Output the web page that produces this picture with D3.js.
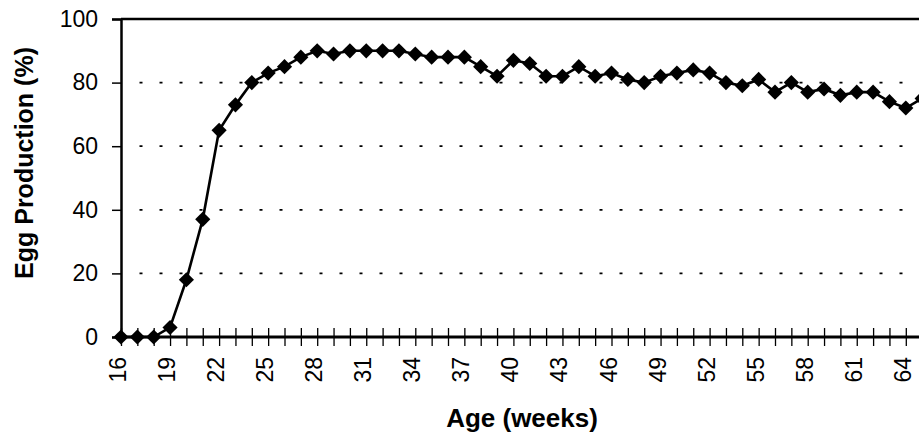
<!DOCTYPE html>
<html>
<head>
<meta charset="utf-8">
<script src="https://cdn.jsdelivr.net/npm/d3@7/dist/d3.min.js"></script>
<style>
  html, body { margin: 0; padding: 0; background: #fff; overflow: hidden; }
  svg { display: block; font-family: "Liberation Sans", Arial, sans-serif; }
</style>
</head>
<body>
<svg id="chart" width="919" height="434"></svg>
<script>
// Weekly egg production of a laying flock, age 16 to 65 weeks
const weeks = d3.range(16, 66);
const production = [
  0, 0, 0, 3, 18, 37, 65, 73, 80, 83,
  85, 88, 90, 89, 90, 90, 90, 90, 89, 88,
  88, 88, 85, 82, 87, 86, 82, 82, 85, 82,
  83, 81, 80, 82, 83, 84, 83, 80, 79, 81,
  77, 80, 77, 78, 76, 77, 77, 74, 72, 75
];
const yTicks = [0, 20, 40, 60, 80, 100];
const gridValues = [20, 40, 60, 80];
const xTickLabels = d3.range(16, 65, 3);

const svg = d3.select("#chart");
const W = 919;
const plotLeft = 121, plotTop = 19, plotBottom = 337;
const weekStep = 16.35;

const x = d3.scaleLinear().domain([16, 66]).range([plotLeft, plotLeft + 50 * weekStep]);
const y = d3.scaleLinear().domain([0, 100]).range([plotBottom, plotTop]);

const points = weeks.map((w, i) => ({ w, v: production[i] }));

// dotted horizontal gridlines
svg.append("g")
  .selectAll("line")
  .data(gridValues)
  .join("line")
  .attr("x1", plotLeft + 20 - 1.5)
  .attr("x2", W)
  .attr("y1", d => y(d))
  .attr("y2", d => y(d))
  .attr("stroke", "#000")
  .attr("stroke-width", 1.8)
  .attr("stroke-dasharray", "3 17");

// top frame line
svg.append("line")
  .attr("x1", plotLeft).attr("x2", W)
  .attr("y1", y(100)).attr("y2", y(100))
  .attr("stroke", "#000").attr("stroke-width", 2.5);

// y axis
const yAxis = svg.append("g")
  .attr("transform", `translate(${plotLeft},0)`)
  .call(d3.axisLeft(y).tickValues(yTicks).tickSize(9).tickPadding(14));
yAxis.select(".domain").attr("stroke-width", 2.5);
yAxis.selectAll(".tick line").attr("stroke-width", 1.5);
yAxis.selectAll(".tick text")
  .attr("font-size", 23)
  .attr("font-family", "'Liberation Sans', Arial, sans-serif")
  .attr("fill", "#000");

// x axis: a tick every week, crossing the axis line
const xAxis = svg.append("g")
  .attr("transform", `translate(0,${plotBottom})`)
  .call(d3.axisBottom(x).tickValues(d3.range(16, 66)).tickSize(0).tickFormat(""));
xAxis.select(".domain").remove();
svg.append("line")
  .attr("x1", plotLeft).attr("x2", W)
  .attr("y1", plotBottom).attr("y2", plotBottom)
  .attr("stroke", "#000").attr("stroke-width", 3);
xAxis.selectAll(".tick line")
  .attr("y1", -9).attr("y2", 9)
  .attr("stroke", "#000").attr("stroke-width", 1.3);

// rotated labels every third week
svg.append("g")
  .selectAll("text")
  .data(xTickLabels)
  .join("text")
  .attr("transform", d => `translate(${x(d) + 5},${plotBottom + 20}) rotate(-90)`)
  .attr("text-anchor", "end")
  .attr("font-size", 23)
  .attr("fill", "#000")
  .text(d => d);

// production line
svg.append("path")
  .datum(points)
  .attr("fill", "none")
  .attr("stroke", "#000")
  .attr("stroke-width", 2.6)
  .attr("d", d3.line().x(d => x(d.w)).y(d => y(d.v)));

// diamond markers
svg.append("g")
  .selectAll("path")
  .data(points)
  .join("path")
  .attr("transform", d => `translate(${x(d.w)},${y(d.v)}) rotate(45)`)
  .attr("d", d3.symbol(d3.symbolSquare, 115))
  .attr("fill", "#000");

// axis titles
svg.append("text")
  .attr("x", 522).attr("y", 427)
  .attr("text-anchor", "middle")
  .attr("font-size", 26)
  .attr("font-weight", "bold")
  .text("Age (weeks)");

svg.append("text")
  .attr("transform", "translate(33,163) rotate(-90)")
  .attr("text-anchor", "middle")
  .attr("font-size", 25)
  .attr("font-weight", "bold")
  .text("Egg Production (%)");
</script>
</body>
</html>
